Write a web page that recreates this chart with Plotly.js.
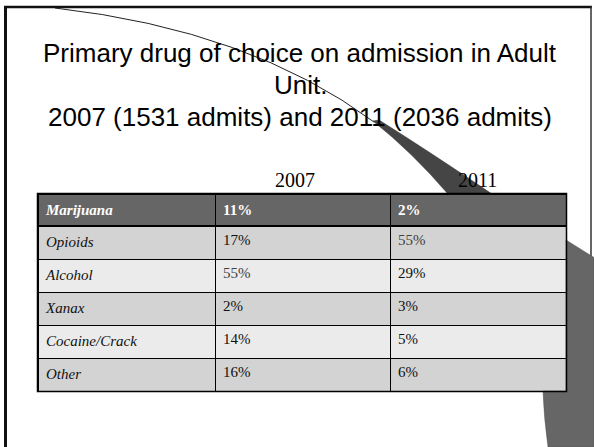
<!DOCTYPE html>
<html>
<head>
<meta charset="utf-8">
<script src="https://cdn.plot.ly/plotly-3.0.1.min.js"></script>
<style>
  html, body { margin: 0; padding: 0; background: #ffffff; }
  #chart { width: 594px; height: 447px; }
</style>
</head>
<body>
<div id="chart"></div>
<script>
// ---- Data ----
var titleLines = [
  "Primary drug of choice on admission in Adult",
  "Unit.",
  "2007 (1531 admits) and 2011 (2036 admits)"
];
var years = ["2007", "2011"];
var drugs = ["Marijuana", "Opioids", "Alcohol", "Xanax", "Cocaine/Crack", "Other"];
var pct2007 = [11, 17, 55, 2, 14, 16];
var pct2011 = [2, 55, 29, 3, 5, 6];

// ---- Build table content ----
function pctText(v) { return v + "%"; }
var headerVals = [
  "<b><i>" + drugs[0] + "</i></b>",
  "<b>" + pctText(pct2007[0]) + "</b>",
  "<b>" + pctText(pct2011[0]) + "</b>"
];
var col1 = drugs.slice(1).map(function (d) { return "<i>" + d + "</i>"; });
var col2 = pct2007.slice(1).map(pctText);
var col3 = pct2011.slice(1).map(pctText);

var rowFill = col1.map(function (_, i) { return i % 2 === 0 ? "#d3d3d3" : "#ebebeb"; });
function colorsFor(vals) {
  return vals.map(function (v) { return v === 55 ? "#404040" : "#111111"; });
}
var fontColors = [
  col1.map(function () { return "#111111"; }),
  colorsFor(pct2007.slice(1)),
  colorsFor(pct2011.slice(1))
];

var W = 594, H = 447;
var tX0 = 38, tX1 = 566, tY0 = 194, tY1 = 391;
var colW = [177, 175, 176];

var data = [
  { type: "scatter", x: [], y: [], hoverinfo: "skip", showlegend: false },
  {
    type: "table",
    domain: { x: [tX0 / W, tX1 / W], y: [1 - tY1 / H, 1 - tY0 / H] },
    columnwidth: colW,
    header: {
      values: headerVals,
      align: "left",
      height: 32,
      fill: { color: "#666666" },
      line: { color: "#000000", width: 1 },
      font: { family: "Liberation Serif", size: 15, color: "#ffffff" }
    },
    cells: {
      values: [col1, col2, col3],
      align: "left",
      height: 33,
      fill: { color: [rowFill, rowFill, rowFill] },
      line: { color: "#000000", width: 1 },
      font: { family: "Liberation Serif", size: 15, color: fontColors }
    }
  },
  // thick rule under the header row (drawn as a thin black table band on top)
  {
    type: "table",
    domain: { x: [tX0 / W, tX1 / W], y: [1 - 227.5 / H, 1 - 224.5 / H] },
    columnwidth: colW,
    header: {
      values: ["", "", ""],
      height: 3,
      fill: { color: "#000000" },
      line: { color: "#000000", width: 0 },
      font: { size: 1, color: "#000000" }
    },
    cells: { values: [[], [], []], height: 1, line: { width: 0 }, fill: { color: "rgba(0,0,0,0)" } }
  }
];

var annotations = [];
var titleY = [52.5, 84.5, 116.5];
titleLines.forEach(function (t, i) {
  annotations.push({
    text: t, x: 300, y: titleY[i], xref: "x", yref: "y",
    xanchor: "center", yanchor: "middle", showarrow: false,
    font: { family: "Liberation Sans", size: 26, color: "#000000" }
  });
});
var yearX = [295, 477];
years.forEach(function (yr, i) {
  annotations.push({
    text: yr, x: yearX[i], y: 179.5, xref: "x", yref: "y",
    xanchor: "center", yanchor: "middle", showarrow: false,
    font: { family: "Liberation Serif", size: 20, color: "#000000" }
  });
});

var shapes = [
  // slide frame
  { type: "line", xref: "x", yref: "y", x0: 4, x1: 592, y0: 7, y1: 7, line: { color: "#111111", width: 2.5 } },
  { type: "line", xref: "x", yref: "y", x0: 5.5, x1: 5.5, y0: 6, y1: 447, line: { color: "#111111", width: 3 } },
  { type: "line", xref: "x", yref: "y", x0: 591, x1: 591, y0: 6, y1: 257, line: { color: "#333333", width: 1.5 } },
  // page curl: thin edge
  { type: "path", xref: "x", yref: "y", path: "M55,8 Q250,30 374,122", line: { color: "#222222", width: 1 } },
  // curl wedge above table
  { type: "path", xref: "x", yref: "y",
    path: "M373,121 Q412,152 448,194 L492,194 Q430,152 379,120 Z",
    fillcolor: "#454545", line: { color: "#333333", width: 0.5 } },
  // curl body right of / below table
  { type: "path", xref: "x", yref: "y",
    path: "M566,240 L594,257.5 L594,447 L548,447 Q544,418 543,391 L566,391 Z",
    fillcolor: "#666666", line: { color: "#555555", width: 0.5 } },
  // outer table border (just outside the table area)
  { type: "rect", xref: "x", yref: "y", x0: tX0 - 0.5, x1: tX1 + 0.5, y0: tY0 - 0.5, y1: tY1 + 0.5,
    line: { color: "#000000", width: 1.5 }, fillcolor: "rgba(0,0,0,0)" }
];

var layout = {
  width: W, height: H,
  margin: { l: 0, r: 0, t: 0, b: 0, pad: 0 },
  paper_bgcolor: "#ffffff", plot_bgcolor: "rgba(0,0,0,0)",
  showlegend: false,
  xaxis: { range: [0, W], visible: false, fixedrange: true },
  yaxis: { range: [H, 0], visible: false, fixedrange: true },
  annotations: annotations,
  shapes: shapes
};

Plotly.newPlot("chart", data, layout, { displayModeBar: false, staticPlot: true });
</script>
</body>
</html>
